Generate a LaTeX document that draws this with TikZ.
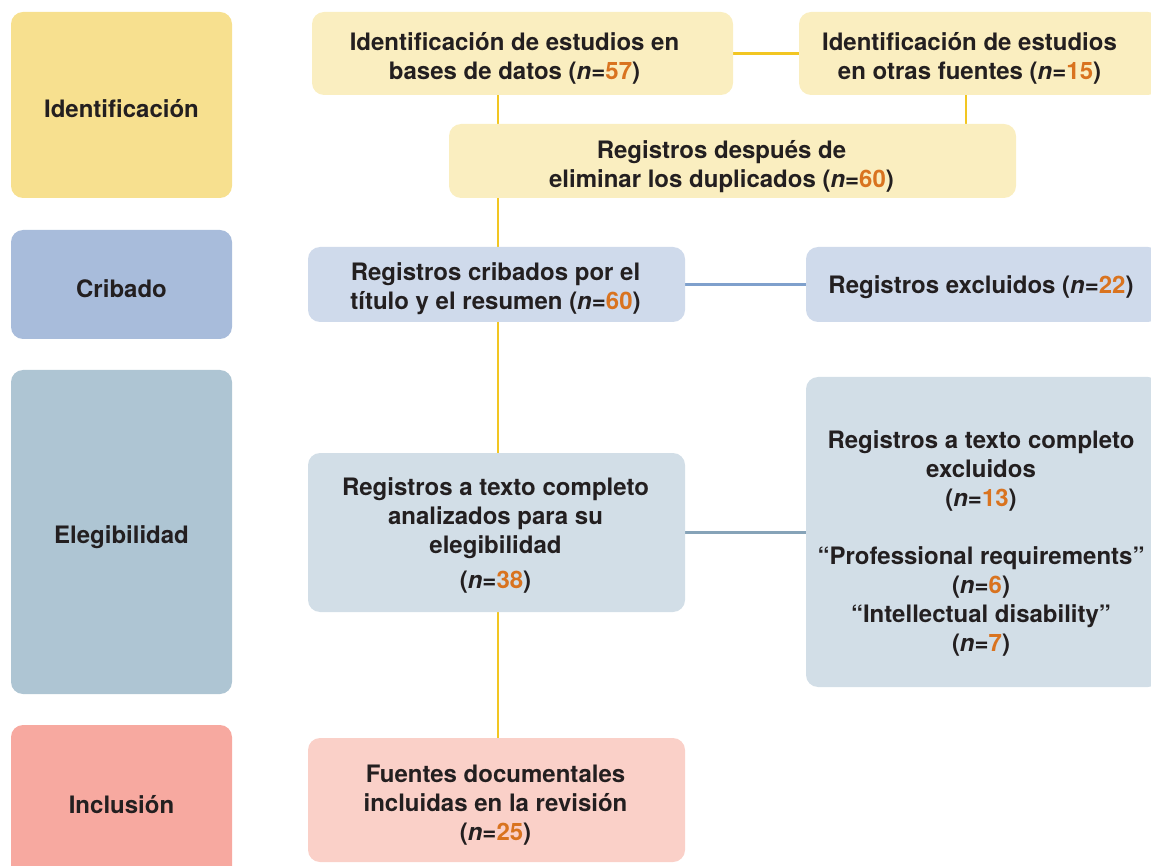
\documentclass[tikz,border=0pt]{standalone}
\usepackage{fontspec}
\setmainfont{TeX Gyre Heros}
\usetikzlibrary{backgrounds}
\definecolor{txt}{HTML}{231F20}
\definecolor{numor}{HTML}{D9731F}
\definecolor{pyel}{HTML}{F7E08F}
\definecolor{pblu}{HTML}{A8BCDB}
\definecolor{ptea}{HTML}{AEC5D3}
\definecolor{ppin}{HTML}{F7A9A0}
\definecolor{lyel}{HTML}{FAEEC0}
\definecolor{lblu}{HTML}{CFDAEB}
\definecolor{ltea}{HTML}{D2DEE7}
\definecolor{lpin}{HTML}{FAD0C8}
\definecolor{lnyel}{HTML}{F2C622}
\definecolor{lnblu}{HTML}{7FA0CC}
\definecolor{lntea}{HTML}{86A3B8}
\newcommand\nn[1]{(\textit{n}=\textcolor{numor}{#1})}
\tikzset{
  box/.style={rectangle, rounded corners=12pt, inner sep=0pt},
  lab/.style={inner sep=0pt, align=center, text=txt,
    font=\bfseries\fontsize{24}{29}\selectfont},
  conn/.style={line width=2.5pt},
}
\begin{document}
\begin{tikzpicture}[x=1pt,y=-1pt]
\path[use as bounding box, clip] (0,0) rectangle (1151,866);
% phase boxes
\node[box, fill=pyel, minimum width=221, minimum height=186,
  label={[lab, yshift=-4]center:{Identificación}}] (P1) at (121.5,105) {};
\node[box, fill=pblu, minimum width=221, minimum height=109,
  label={[lab, yshift=-4]center:{Cribado}}] (P2) at (121.5,284.5) {};
\node[box, fill=ptea, minimum width=221, minimum height=324,
  label={[lab, yshift=-5]center:{Elegibilidad}}] (P3) at (121.5,532) {};
\node[box, fill=ppin, minimum width=221, minimum height=156,
  label={[lab, yshift=-2]center:{Inclusión}}] (P4) at (121.5,803) {};
% content boxes
\node[box, fill=lyel, minimum width=421, minimum height=83,
  label={[lab, xshift=-8, yshift=-5]center:{Identificación de estudios en\\bases de datos \nn{57}}}] (A) at (522.5,53.5) {};
\node[box, fill=lyel, minimum width=361, minimum height=83,
  label={[lab, xshift=-10, yshift=-5]center:{Identificación de estudios\\en otras fuentes \nn{15}}}] (B) at (979.5,53.5) {};
\node[box, fill=lyel, minimum width=567, minimum height=74,
  label={[lab, xshift=-11, yshift=-6]center:{Registros después de\\eliminar los duplicados \nn{60}}}] (C) at (732.5,161) {};
\node[box, fill=lblu, minimum width=377, minimum height=75,
  label={[lab, xshift=-1, yshift=-4]center:{Registros cribados por el\\título y el resumen \nn{60}}}] (D) at (496.5,284.5) {};
\node[box, fill=lblu, minimum width=354, minimum height=75,
  label={[lab, xshift=-2, yshift=-3]center:{Registros excluidos \nn{22}}}] (E) at (983,284.5) {};
\node[box, fill=ltea, minimum width=377, minimum height=159,
  label={[lab, xshift=-1, yshift=-3]center:{Registros a texto completo\\analizados para su\\elegibilidad\\[6pt]\nn{38}}}] (F) at (496.5,532.5) {};
\node[box, fill=ltea, minimum width=354, minimum height=310,
  label={[lab, xshift=-2, yshift=-11]center:{Registros a texto completo\\excluidos\\\nn{13}\\[29pt]“Professional requirements”\\\nn{6}\\“Intellectual disability”\\\nn{7}}}] (G) at (983,532) {};
\node[box, fill=lpin, minimum width=377, minimum height=124,
  label={[lab, xshift=-1, yshift=-5]center:{Fuentes documentales\\incluidas en la revisión\\\nn{25}}}] (H) at (496.5,800) {};
\coordinate (spine) at (498,0);
\coordinate (side) at (966,0);
\begin{scope}[on background layer]
\draw[conn, lnyel] (A.south -| spine) -- (H.north -| spine);
\draw[conn, lnyel] (A.east) -- (B.west |- A.east);
\draw[conn, lnyel] (B.south -| side) -- (C.north -| side);
\draw[conn, lnblu] (D.east) -- (E.west);
\draw[conn, lntea] (F.east) -- (G.west |- F.east);
\end{scope}
\end{tikzpicture}
\end{document}
